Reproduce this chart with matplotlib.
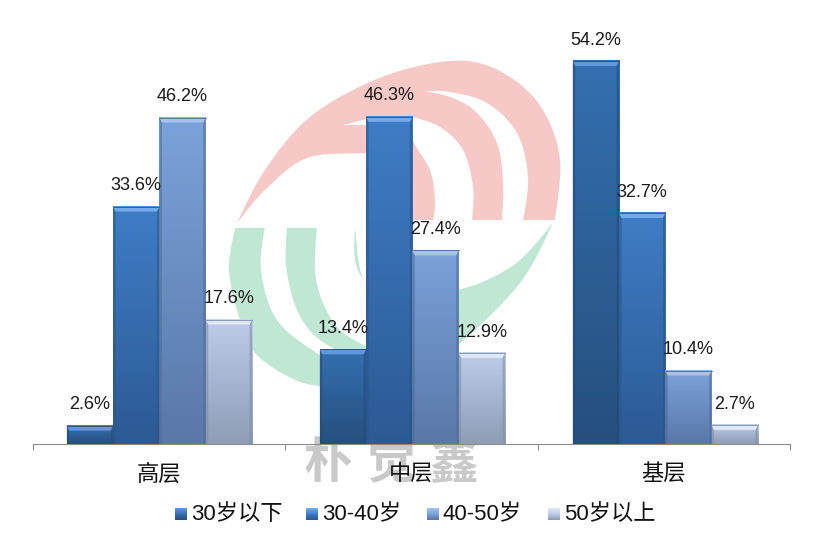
import numpy as np
import matplotlib
matplotlib.use("Agg")
import matplotlib.pyplot as plt
from matplotlib.colors import LinearSegmentedColormap
from matplotlib.patches import Polygon

W, H = 823, 549
FONT = ["Liberation Sans", "Noto Sans CJK SC", "DejaVu Sans"]
plt.rcParams["font.family"] = FONT

categories = ["高层", "中层", "基层"]
series_names = ["30岁以下", "30-40岁", "40-50岁", "50岁以上"]
under_30 = [2.6, 13.4, 54.2]
age_30_40 = [33.6, 46.3, 32.7]
age_40_50 = [46.2, 27.4, 10.4]
over_50 = [17.6, 12.9, 2.7]
series_values = [under_30, age_30_40, age_40_50, over_50]

# top colour, bottom colour, bevel colour, edge colour
series_colors = [
    ("#3470b0", "#264f7e", "#5f98dc", "#234a78"),
    ("#3f7dc6", "#2c5a94", "#74abea", "#2a5488"),
    ("#7ba2da", "#5a78a8", "#a5c3ee", "#4f6a96"),
    ("#bccdea", "#8f9db6", "#dfe8f6", "#7f8da6"),
]

legend_x = [175, 306, 427, 548]

PINK = "#f6c9c6"
GREEN = "#c0e6d4"

# watermark outlines, pixel coordinates, each list is one smooth run of the edge
pink_shape = [
    [(237, 223), (263, 173), (303, 123), (353, 90), (410, 68), (467, 61), (510, 77), (543, 110),
     (560, 160), (555, 220)],
    [(555, 220), (413, 220)],
    [(413, 220), (413, 150)],
    [(413, 150), (367, 153), (307, 158), (265, 190), (237, 223)],
]
pink_gaps = [
    [[(523, 222), (528, 177), (517, 133), (487, 103), (450, 92), (425, 91)],
     [(425, 91), (453, 98), (477, 113), (497, 143), (503, 183), (502, 222)]],
    [[(472, 222), (473, 187), (463, 150), (440, 127), (413, 117)],
     [(413, 117), (413, 140), (430, 170), (435, 200), (433, 222)]],
    [[(343, 125), (367, 119)], [(367, 119), (367, 125)], [(367, 125), (343, 125)]],
]
green_shape = [
    [(235, 228), (229, 270), (240, 320), (255, 353), (289, 377), (320, 386), (367, 385),
     (415, 370), (458, 345), (520, 283), (553, 223)],
    [(553, 223), (520, 260), (487, 280), (458, 290), (420, 300), (367, 285), (355, 228)],
    [(355, 228), (235, 228)],
]
green_gaps = [
    [[(265, 226), (261, 270), (277, 320), (320, 355), (367, 378)],
     [(367, 378), (367, 365)],
     [(367, 365), (320, 340), (297, 310), (286, 265), (287, 226)]],
    [[(317, 226), (315, 270), (323, 303), (340, 330), (367, 347)],
     [(367, 347), (410, 340)],
     [(410, 340), (367, 285), (355, 260), (355, 226)]],
]


def smooth(points, n=16):
    # catmull-rom through the outline points
    pts = np.array(points, dtype=float)
    pts = np.vstack([pts[0], pts, pts[-1]])
    out = []
    for i in range(1, len(pts) - 2):
        p0, p1, p2, p3 = pts[i - 1], pts[i], pts[i + 1], pts[i + 2]
        for t in np.linspace(0, 1, n, endpoint=False):
            out.append(0.5 * (2 * p1 + (p2 - p0) * t
                              + (2 * p0 - 5 * p1 + 4 * p2 - p3) * t ** 2
                              + (3 * p1 - p0 - 3 * p2 + p3) * t ** 3))
    out.append(pts[-2])
    return np.array(out)


def blob(ax, runs, color, zorder):
    xy = np.vstack([smooth(run) for run in runs])
    ax.add_patch(Polygon(xy, closed=True, facecolor=color, edgecolor="none", zorder=zorder))


def draw_watermark(ax):
    blob(ax, pink_shape, PINK, 1)
    for gap in pink_gaps:
        blob(ax, gap, "white", 2)
    blob(ax, green_shape, GREEN, 1)
    for gap in green_gaps:
        blob(ax, gap, "white", 2)
    for x, ch in zip([328, 391, 454], "朴觉鑫"):
        ax.text(x, 465, ch, color="#c9c9c9", fontsize=35, fontweight="bold",
                ha="center", va="center", zorder=3)


def draw_bars(ax, bars, colors, dx, dy):
    top, bottom, bevel, edge = colors
    cmap = LinearSegmentedColormap.from_list("bar", [top, bottom])
    grad = np.linspace(0, 1, 64).reshape(-1, 1)
    for bar in bars:
        x0, x1 = bar.get_x(), bar.get_x() + bar.get_width()
        h = bar.get_height()
        ax.imshow(grad, cmap=cmap, extent=(x0, x1, 0, h), aspect="auto", zorder=4)
        ax.add_patch(Polygon([(x0, 0), (x0 + dx, 0), (x0 + dx, h - dy), (x0, h)],
                             facecolor=edge, edgecolor="none", alpha=0.55, zorder=5))
        ax.add_patch(Polygon([(x1, 0), (x1 - dx, 0), (x1 - dx, h - dy), (x1, h)],
                             facecolor=edge, edgecolor="none", alpha=0.55, zorder=5))
        ax.add_patch(Polygon([(x0, h), (x1, h), (x1 - dx, h - dy), (x0 + dx, h - dy)],
                             facecolor=bevel, edgecolor="none", zorder=5))
        ax.plot([x0, x1], [h, h], color=edge, lw=0.6, zorder=6)


fig = plt.figure(figsize=(W / 100, H / 100), dpi=100, facecolor="white")

# pixel-coordinate layer for the watermark
bg = fig.add_axes([0, 0, 1, 1], zorder=0)
bg.set_xlim(0, W)
bg.set_ylim(H, 0)
bg.axis("off")
draw_watermark(bg)

ax = fig.add_axes([33 / W, (H - 444) / H, 757 / W, 424 / H], zorder=1)
ax.patch.set_alpha(0)

x = np.arange(len(categories))
bar_w = 46.3 / (757 / 3)
dx = 2.5 / (757 / 3)
dy = 5 * 60 / 424

for i, (vals, colors) in enumerate(zip(series_values, series_colors)):
    pos = x * 1.0025 + 0.001 + (i - 1.5) * bar_w
    bars = ax.bar(pos, vals, width=bar_w, color="none", zorder=4)
    draw_bars(ax, bars, colors, dx, dy)
    for px, v in zip(pos, vals):
        ax.annotate(f"{v:.1f}%", (px, v), xytext=(0, 15), textcoords="offset points",
                    ha="center", va="center", fontsize=13, color="#1a1a1a", zorder=7)

ax.set_xlim(-0.5, 2.5)
ax.set_ylim(0, 60)
ax.set_yticks([])
for side in ["top", "left", "right"]:
    ax.spines[side].set_visible(False)
ax.spines["bottom"].set_color("#8c8c8c")
ax.set_xticks(x)
ax.set_xticklabels(categories, fontsize=16, color="#111111")
ax.tick_params(axis="x", which="major", length=0, pad=14.5)
ax.set_xticks(np.arange(-0.5, 3, 1), minor=True)
ax.tick_params(axis="x", which="minor", length=4.5, color="#8c8c8c", width=0.8)

# legend with small gradient squares, same look as the bars
fg = fig.add_axes([0, 0, 1, 1], zorder=2)
fg.set_xlim(0, W)
fg.set_ylim(H, 0)
fg.axis("off")
for lx, name, colors in zip(legend_x, series_names, series_colors):
    cmap = LinearSegmentedColormap.from_list("key", [colors[2], colors[0], colors[1]])
    fg.imshow(np.linspace(0, 1, 16).reshape(-1, 1), cmap=cmap,
              extent=(lx, lx + 12, 520, 508), aspect="auto", zorder=2)
    fg.text(lx + 16, 515, name, fontsize=16, color="#111111", ha="left", va="center")
fg.set_xlim(0, W)
fg.set_ylim(H, 0)

fig.savefig("out.png", dpi=100)
plt.close(fig)
